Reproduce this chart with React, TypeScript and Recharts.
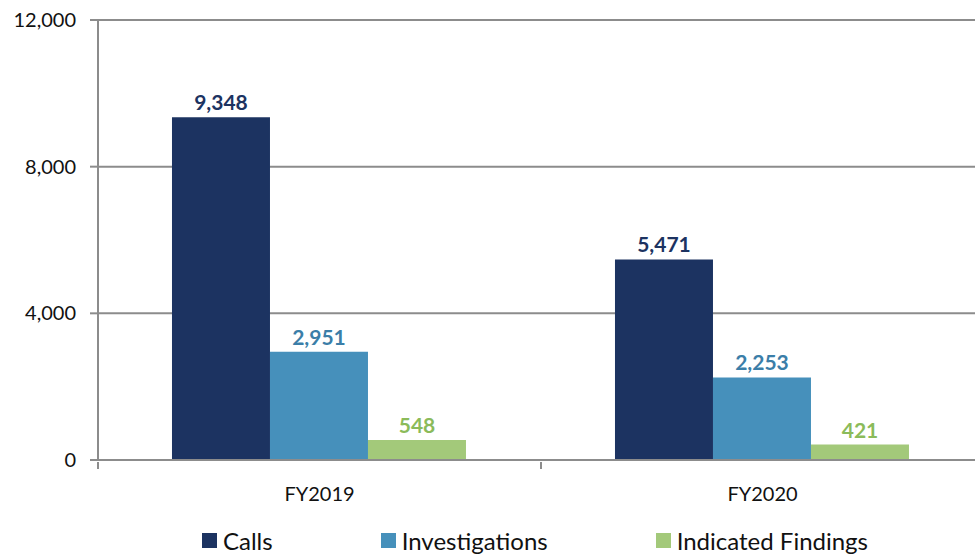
import React from "react";
import {
  BarChart,
  Bar,
  XAxis,
  YAxis,
  CartesianGrid,
  Legend,
  LabelList,
} from "recharts";

const years = ["FY2019", "FY2020"];
const calls = [9348, 5471];
const investigations = [2951, 2253];
const findings = [548, 421];
const yTicks = [0, 4000, 8000, 12000];

const data = years.map((y, i) => ({
  year: y,
  calls: calls[i],
  investigations: investigations[i],
  findings: findings[i],
}));

const series = [
  { key: "calls", name: "Calls", fill: "#1c3361", label: "#1c3361" },
  { key: "investigations", name: "Investigations", fill: "#4690bb", label: "#3b7ea8" },
  { key: "findings", name: "Indicated Findings", fill: "#a3c97a", label: "#8bbb5a" },
];

const font = "Lato, 'Open Sans', sans-serif";
const fmt = (v: number) => v.toLocaleString("en-US");

const CatTick = (props: any) => {
  const { x, y, payload } = props;
  const half = payload && payload.offset ? payload.offset : 221.5;
  return (
    <g>
      <line x1={x - half} y1={y - 6} x2={x - half} y2={y + 1} stroke="#8c8c8c" strokeWidth={2} />
      <line x1={x + half} y1={y - 6} x2={x + half} y2={y + 1} stroke="#8c8c8c" strokeWidth={2} />
      <text x={x} y={y + 33} textAnchor="middle" fontSize={20} fill="#111" fontFamily={font}>
        {payload.value}
      </text>
    </g>
  );
};

const LegendBox = () => (
  <div
    style={{
      display: "flex",
      justifyContent: "center",
      alignItems: "center",
      gap: 108,
      height: 54,
      paddingTop: 26,
      boxSizing: "border-box",
      paddingLeft: 86,
      fontFamily: font,
      fontSize: 24,
      color: "#111",
    }}
  >
    {series.map((s) => (
      <div key={s.key} style={{ display: "flex", alignItems: "center" }}>
        <span style={{ width: 15, height: 15, background: s.fill, marginRight: 6, display: "inline-block" }} />
        <span>{s.name}</span>
      </div>
    ))}
  </div>
);

export default function App() {
  return (
    <div style={{ position: "absolute", left: 0, top: 0, width: 975, height: 554, overflow: "hidden", background: "#fff" }}>
      <BarChart
        width={984}
        height={554}
        data={data}
        margin={{ top: 20, right: 0, left: 0, bottom: 0 }}
        barCategoryGap="16.7%"
        barGap={0}
      >
        <CartesianGrid vertical={false} stroke="#8c8c8c" strokeWidth={2} />
        <XAxis
          dataKey="year"
          height={40}
          tickLine={false}
          axisLine={{ stroke: "#8c8c8c", strokeWidth: 2 }}
          tick={<CatTick />}
          interval={0}
        />
        <YAxis
          width={98}
          domain={[0, 12000]}
          ticks={yTicks}
          tickFormatter={fmt}
          tickSize={8}
          tickMargin={14}
          tickLine={{ stroke: "#8c8c8c", strokeWidth: 2 }}
          axisLine={{ stroke: "#8c8c8c", strokeWidth: 2 }}
          tick={{ fill: "#111", fontSize: 20, fontFamily: font }}
        />
        <Legend verticalAlign="bottom" height={54} content={<LegendBox />} />
        {series.map((s) => (
          <Bar key={s.key} dataKey={s.key} name={s.name} fill={s.fill} isAnimationActive={false}>
            <LabelList
              dataKey={s.key}
              position="top"
              offset={7}
              formatter={(v: any) => fmt(Number(v))}
              style={{ fill: s.label, fontSize: 21, fontWeight: 700, fontFamily: font }}
            />
          </Bar>
        ))}
      </BarChart>
    </div>
  );
}
